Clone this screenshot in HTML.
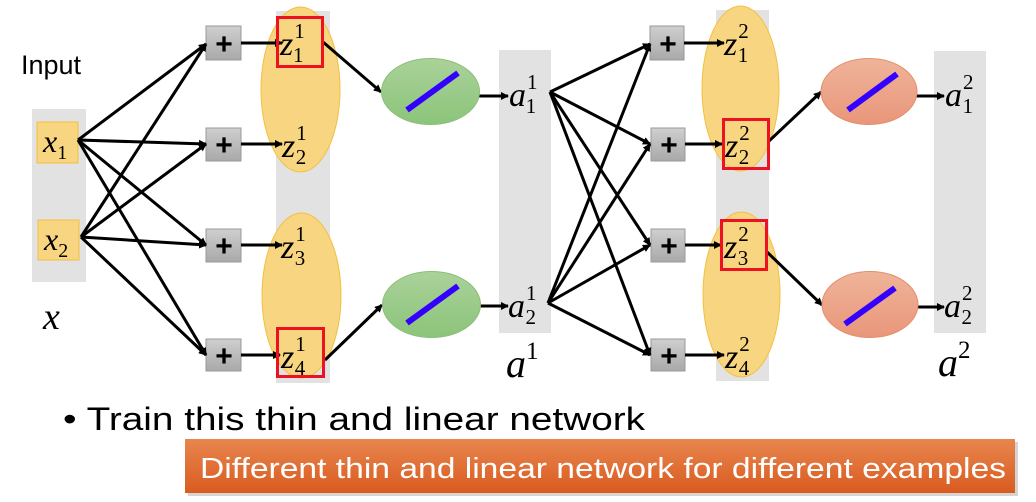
<!DOCTYPE html>
<html><head><meta charset="utf-8"><style>
html,body{margin:0;padding:0;background:#fff;}
svg{display:block}
.m{font-family:"Liberation Serif",serif;font-style:italic;}
</style></head><body>
<svg width="1036" height="502" viewBox="0 0 1036 502" xmlns="http://www.w3.org/2000/svg">
<defs>
<marker id="ar" markerWidth="8" markerHeight="8" refX="7" refY="4" orient="auto" markerUnits="userSpaceOnUse">
<path d="M0,0 L8,4 L0,8 z" fill="#000"/></marker>
<linearGradient id="g" x1="0" y1="0" x2="0" y2="1"><stop offset="0" stop-color="#aad29a"/><stop offset="1" stop-color="#8cc47a"/></linearGradient>
<linearGradient id="o" x1="0" y1="0" x2="0" y2="1"><stop offset="0" stop-color="#efb49a"/><stop offset="1" stop-color="#e9967a"/></linearGradient>
<linearGradient id="b" x1="0" y1="0" x2="0" y2="1"><stop offset="0" stop-color="#e8864e"/><stop offset="1" stop-color="#d95b20"/></linearGradient>
<linearGradient id="p" x1="0" y1="0" x2="0" y2="1"><stop offset="0" stop-color="#cfcfcf"/><stop offset="1" stop-color="#a9a9a9"/></linearGradient>
</defs>
<rect x="32" y="109" width="54" height="173" fill="#e2e2e2"/>
<rect x="276" y="11" width="54" height="372" fill="#e2e2e2"/>
<rect x="499" y="50" width="52" height="283" fill="#e2e2e2"/>
<rect x="716" y="10" width="53" height="371" fill="#e2e2e2"/>
<rect x="934" y="51" width="52" height="282" fill="#e2e2e2"/>
<g fill="#f8d580" stroke="#f2c040" stroke-width="1">
<ellipse cx="300.5" cy="89.5" rx="39.5" ry="82.5"/>
<ellipse cx="301.5" cy="295.5" rx="39.5" ry="82.5"/>
<ellipse cx="740.5" cy="88.5" rx="38.5" ry="82.5"/>
<ellipse cx="741.5" cy="294.5" rx="38.5" ry="82.5"/>
</g>
<rect x="37" y="122" width="41" height="41" fill="#f8d580" stroke="#f2c040"/>
<rect x="38" y="220" width="41" height="40" fill="#f8d580" stroke="#f2c040"/>
<text x="43" y="152" class="m" font-size="32">x<tspan font-size="20" font-style="normal" dy="7">1</tspan></text>
<text x="44" y="250" class="m" font-size="32">x<tspan font-size="20" font-style="normal" dy="7">2</tspan></text>
<text x="21" y="74" font-family="Liberation Sans,sans-serif" font-size="27">Input</text>
<text x="43" y="329" class="m" font-size="38">x</text>
<g fill="url(#p)" stroke="#999">
<rect x="206" y="26" width="35" height="34"/><rect x="206" y="128" width="35" height="33"/>
<rect x="206" y="229" width="35" height="33"/><rect x="206" y="339" width="35" height="32"/>
<rect x="650" y="26" width="34" height="34"/><rect x="651" y="128" width="34" height="33"/>
<rect x="651" y="229" width="34" height="33"/><rect x="651" y="339" width="34" height="32"/>
</g>
<g font-family="Liberation Sans,sans-serif" font-size="30" font-weight="bold" text-anchor="middle">
<text x="224" y="54">+</text><text x="224" y="155">+</text><text x="224" y="256">+</text><text x="224" y="366">+</text>
<text x="668" y="54">+</text><text x="669" y="155">+</text><text x="669" y="256">+</text><text x="669" y="366">+</text>
</g>
<g stroke="#000" stroke-width="3" marker-end="url(#ar)" fill="none">
<line x1="78" y1="140" x2="206" y2="44"/><line x1="78" y1="140" x2="206" y2="144"/>
<line x1="78" y1="140" x2="206" y2="245"/><line x1="78" y1="140" x2="206" y2="355"/>
<line x1="81" y1="237" x2="206" y2="44"/><line x1="81" y1="237" x2="206" y2="144"/>
<line x1="81" y1="237" x2="206" y2="245"/><line x1="81" y1="237" x2="206" y2="355"/>
<line x1="550" y1="92" x2="650" y2="44"/><line x1="550" y1="92" x2="650" y2="144"/>
<line x1="550" y1="92" x2="650" y2="245"/><line x1="550" y1="92" x2="650" y2="355"/>
<line x1="548" y1="303" x2="650" y2="44"/><line x1="548" y1="303" x2="650" y2="144"/>
<line x1="548" y1="303" x2="650" y2="245"/><line x1="548" y1="303" x2="650" y2="355"/>
<line x1="241" y1="43" x2="282" y2="43"/><line x1="241" y1="144" x2="282" y2="144"/>
<line x1="241" y1="245" x2="282" y2="245"/><line x1="241" y1="355" x2="280" y2="355"/>
<line x1="684" y1="43" x2="724" y2="43"/><line x1="685" y1="144" x2="722" y2="144"/>
<line x1="685" y1="245" x2="721" y2="245"/><line x1="685" y1="355" x2="724" y2="355"/>
<line x1="323" y1="42" x2="381" y2="92"/><line x1="325" y1="360" x2="382" y2="305"/>
<line x1="769" y1="141" x2="821" y2="92"/><line x1="767" y1="252" x2="822" y2="305"/>
<line x1="478" y1="96" x2="508" y2="96"/><line x1="479" y1="306" x2="508" y2="306"/>
<line x1="916" y1="96" x2="944" y2="96"/><line x1="917" y1="307" x2="944" y2="307"/>
</g>
<ellipse cx="430.5" cy="91.5" rx="49" ry="33" fill="url(#g)" stroke="#8cbf78"/>
<ellipse cx="431.5" cy="304.5" rx="49" ry="33" fill="url(#g)" stroke="#8cbf78"/>
<ellipse cx="869" cy="91.5" rx="48" ry="33" fill="url(#o)" stroke="#e38f6a"/>
<ellipse cx="870" cy="304.5" rx="48" ry="33" fill="url(#o)" stroke="#e38f6a"/>
<g stroke="#3300ff" stroke-width="6">
<line x1="407" y1="110" x2="458" y2="73"/><line x1="407" y1="323" x2="458" y2="286"/>
<line x1="848" y1="110" x2="897" y2="74"/><line x1="845" y1="324" x2="895" y2="288"/>
</g>
<g class="m" font-size="34">
<text x="280" y="55">z<tspan font-size="21" font-style="normal" dx="1" dy="-17">1</tspan><tspan font-size="21" font-style="normal" dx="-11" dy="24">1</tspan></text>
<text x="282" y="157">z<tspan font-size="21" font-style="normal" dx="1" dy="-17">1</tspan><tspan font-size="21" font-style="normal" dx="-11" dy="24">2</tspan></text>
<text x="281" y="258">z<tspan font-size="21" font-style="normal" dx="1" dy="-17">1</tspan><tspan font-size="21" font-style="normal" dx="-11" dy="24">3</tspan></text>
<text x="281" y="368">z<tspan font-size="21" font-style="normal" dx="1" dy="-17">1</tspan><tspan font-size="21" font-style="normal" dx="-11" dy="24">4</tspan></text>
<text x="724" y="55">z<tspan font-size="21" font-style="normal" dx="1" dy="-17">2</tspan><tspan font-size="21" font-style="normal" dx="-11" dy="24">1</tspan></text>
<text x="725" y="157">z<tspan font-size="21" font-style="normal" dx="1" dy="-17">2</tspan><tspan font-size="21" font-style="normal" dx="-11" dy="24">2</tspan></text>
<text x="724" y="258">z<tspan font-size="21" font-style="normal" dx="1" dy="-17">2</tspan><tspan font-size="21" font-style="normal" dx="-11" dy="24">3</tspan></text>
<text x="725" y="368">z<tspan font-size="21" font-style="normal" dx="1" dy="-17">2</tspan><tspan font-size="21" font-style="normal" dx="-11" dy="24">4</tspan></text>
<text x="509" y="106">a<tspan font-size="21" font-style="normal" dx="1" dy="-17">1</tspan><tspan font-size="21" font-style="normal" dx="-11" dy="24">1</tspan></text>
<text x="508" y="317">a<tspan font-size="21" font-style="normal" dx="1" dy="-17">1</tspan><tspan font-size="21" font-style="normal" dx="-11" dy="24">2</tspan></text>
<text x="945" y="106">a<tspan font-size="21" font-style="normal" dx="1" dy="-17">2</tspan><tspan font-size="21" font-style="normal" dx="-11" dy="24">1</tspan></text>
<text x="944" y="317">a<tspan font-size="21" font-style="normal" dx="1" dy="-17">2</tspan><tspan font-size="21" font-style="normal" dx="-11" dy="24">2</tspan></text>
</g>
<text x="506" y="377" class="m" font-size="40">a<tspan font-size="25" font-style="normal" dy="-18">1</tspan></text>
<text x="938" y="376" class="m" font-size="40">a<tspan font-size="25" font-style="normal" dy="-18">2</tspan></text>
<g fill="none" stroke="#ee1122" stroke-width="3">
<rect x="277.5" y="17.5" width="45" height="49"/><rect x="277.5" y="328.5" width="46" height="48"/>
<rect x="723.5" y="119.5" width="45" height="49"/><rect x="721.5" y="220.5" width="45" height="49"/>
</g>
<text x="63" y="430" font-family="Liberation Sans,sans-serif" font-size="32" textLength="582" lengthAdjust="spacingAndGlyphs">• Train this thin and linear network</text>
<rect x="188" y="442" width="830" height="54" fill="#888" opacity="0.35"/>
<rect x="185" y="439" width="830" height="54" fill="url(#b)"/>
<text x="200" y="478" font-family="Liberation Sans,sans-serif" font-size="29" fill="#fff" textLength="806" lengthAdjust="spacingAndGlyphs">Different thin and linear network for different examples</text>
</svg>
</body></html>
